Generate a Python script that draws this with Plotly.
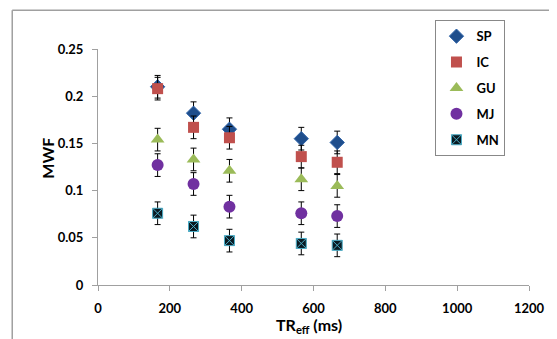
import plotly.graph_objects as go

tr_eff = [166, 266, 366, 566, 666]
series_names = ["SP", "IC", "GU", "MJ", "MN"]
sp = [0.210, 0.182, 0.165, 0.155, 0.151]
ic = [0.208, 0.167, 0.156, 0.136, 0.130]
gu = [0.154, 0.133, 0.121, 0.112, 0.105]
mj = [0.127, 0.107, 0.083, 0.076, 0.073]
mn = [0.076, 0.062, 0.047, 0.044, 0.042]
err_sp = [0.012, 0.012, 0.012, 0.012, 0.012]
err_ic = [0.012, 0.012, 0.012, 0.012, 0.012]
err_gu = [0.012, 0.012, 0.012, 0.012, 0.012]
err_mj = [0.012, 0.012, 0.012, 0.012, 0.012]
err_mn = [0.012, 0.012, 0.012, 0.012, 0.012]
x_range = [0, 1200]

values = [sp, ic, gu, mj, mn]
errors = [err_sp, err_ic, err_gu, err_mj, err_mn]
styles = [
    dict(symbol="diamond", color="#1F4E8C", size=11, line=dict(color="#2E63A8", width=1)),
    dict(symbol="square", color="#C0504D", size=11, line=dict(color="#C0504D", width=0)),
    dict(symbol="triangle-up", color="#9BBB59", size=12, line=dict(color="#9BBB59", width=0)),
    dict(symbol="circle", color="#7030A0", size=12, line=dict(color="#7030A0", width=0)),
    dict(symbol="square-x", color="#0A1A22", size=10, line=dict(color="#4BACC6", width=1)),
]

fig = go.Figure()
for name, y, e, st in zip(series_names, values, errors, styles):
    fig.add_trace(go.Scatter(
        x=tr_eff, y=y, mode="markers", name=name, legendgroup=name,
        marker=st,
        error_y=dict(type="data", array=e, visible=True, color="black", thickness=1, width=3),
    ))
# empty helper trace so the tick-label axis is drawn
fig.add_trace(go.Scatter(x=[], y=[], xaxis="x2", showlegend=False, hoverinfo="skip"))

font_family = "Lato, 'Open Sans', sans-serif"
fig.update_layout(
    width=549, height=331,
    margin=dict(l=90, r=22, t=39, b=54),
    paper_bgcolor="white", plot_bgcolor="white",
    font=dict(family=font_family, size=13, color="black"),
    xaxis=dict(
        range=x_range, dtick=200, tick0=0, showgrid=False, zeroline=False,
        showline=True, linecolor="#A0A0A0", linewidth=1, layer="above traces",
        ticks="outside", tickcolor="#A0A0A0", ticklen=5, showticklabels=False,
    ),
    xaxis2=dict(
        range=x_range, dtick=200, tick0=0, showgrid=False, zeroline=False,
        overlaying="x", anchor="y", side="bottom",
        showline=True, linecolor="#A0A0A0", linewidth=1,
        ticks="outside", tickcolor="rgba(0,0,0,0)", ticklen=11,
        ticklabeloverflow="allow",
        tickfont=dict(family=font_family, size=13, color="black", weight="bold"),
    ),
    yaxis=dict(
        range=[0, 0.25], dtick=0.05, tick0=0, showgrid=False, zeroline=False,
        showline=True, linecolor="#A0A0A0", linewidth=1,
        ticks="outside", tickcolor="#A0A0A0", ticklen=5, ticklabelstandoff=6,
        tickfont=dict(family=font_family, size=13, color="black", weight="bold"),
    ),
    annotations=[
        dict(text="<b>MWF</b>", xref="paper", yref="paper",
             x=-0.119, y=0.538, xanchor="center", yanchor="middle",
             textangle=-90, showarrow=False,
             font=dict(family=font_family, size=16, color="black")),
        dict(text="<b>TR<sub>eff</sub> (ms)</b>", xref="paper", yref="paper",
             x=0.49, y=-0.172, xanchor="center", yanchor="middle",
             showarrow=False,
             font=dict(family=font_family, size=16, color="black")),
    ],
    legend=dict(
        x=0.783, y=1.122, xanchor="left", yanchor="top",
        bordercolor="#888888", borderwidth=1, bgcolor="white",
        font=dict(family=font_family, size=13, color="black", weight="bold"),
        tracegroupgap=6, traceorder="grouped", itemwidth=30,
    ),
    shapes=[
        dict(type="line", xref="paper", yref="paper", x0=-0.199, x1=1.2, y0=1.164, y1=1.164,
             line=dict(color="#A0A0A0", width=1.5), layer="below"),
        dict(type="line", xref="paper", yref="paper", x0=-0.199, x1=-0.199, y0=-0.4, y1=1.164,
             line=dict(color="#A0A0A0", width=1.5), layer="below"),
    ],
)

fig.write_html("out.html")
